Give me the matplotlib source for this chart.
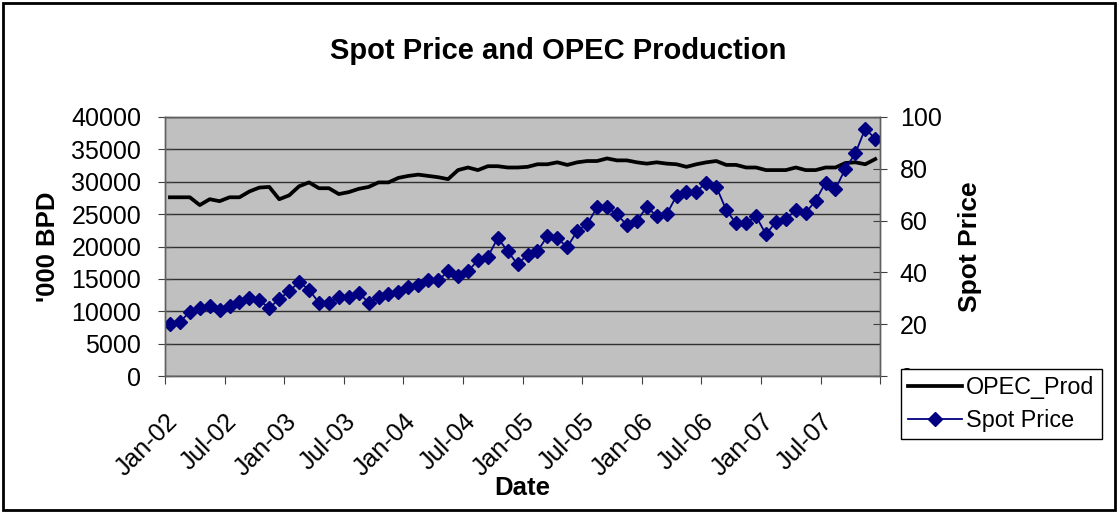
import numpy as np
import matplotlib
matplotlib.use("Agg")
import matplotlib.pyplot as plt
from matplotlib.patches import Rectangle

plt.rcParams["font.family"] = ["Liberation Sans", "DejaVu Sans"]

# monthly data, Jan-02 .. Dec-07
months = [f"{m}-{y:02d}" for y in range(2, 8)
          for m in ["Jan", "Feb", "Mar", "Apr", "May", "Jun",
                    "Jul", "Aug", "Sep", "Oct", "Nov", "Dec"]]

opec_prod = [
    27600, 27600, 27600, 26400, 27300, 27000, 27600, 27600, 28500, 29100, 29200, 27300,
    27900, 29300, 29900, 29000, 29000, 28100, 28400, 28900, 29200, 29900, 29900, 30600,
    30900, 31100, 30900, 30700, 30400, 31800, 32200, 31800, 32400, 32400, 32200, 32200,
    32300, 32700, 32700, 33000, 32600, 33000, 33200, 33200, 33600, 33300, 33300, 33000,
    32800, 33000, 32800, 32700, 32300, 32700, 33000, 33200, 32600, 32600, 32200, 32200,
    31800, 31800, 31800, 32200, 31800, 31800, 32200, 32200, 32900, 33000, 32700, 33500,
]

spot_price = [
    20.2, 20.8, 24.9, 26.4, 27.2, 25.3, 27.2, 28.5, 30.2, 29.2, 26.2, 29.8,
    32.7, 36.3, 33.3, 28.3, 28.3, 30.5, 30.5, 32.2, 28.3, 30.5, 31.5, 32.3,
    34.3, 35.0, 37.2, 36.9, 40.4, 38.5, 40.4, 44.7, 46.0, 53.3, 48.2, 43.1,
    46.9, 48.2, 54.0, 53.1, 49.8, 56.0, 58.6, 65.1, 65.1, 62.4, 58.3, 59.8,
    65.3, 61.7, 62.4, 69.6, 71.2, 71.2, 74.7, 73.1, 64.1, 58.9, 58.9, 61.7,
    54.7, 59.5, 60.5, 64.1, 63.0, 67.7, 74.7, 72.2, 80.1, 86.0, 95.5, 91.6,
]

x = np.arange(len(months))

fig = plt.figure(figsize=(11.17, 5.12), dpi=100)
ax = fig.add_axes([0.1477, 0.2656, 0.6403, 0.5059])
ax2 = ax.twinx()

ax.set_facecolor("#c0c0c0")
ax.grid(axis="y", color="#303030", linewidth=1.0)
ax.set_axisbelow(True)

l1, = ax.plot(x, opec_prod, color="black", linewidth=2.7, label="OPEC_Prod", zorder=3)
l2, = ax2.plot(x, spot_price, color="#000080", linewidth=1.3, marker="D",
               markersize=7.5, label="Spot Price")

ax.set_xlim(-0.5, len(months) - 0.5)
ax.set_ylim(0, 40000)
ax.set_yticks(np.arange(0, 40001, 5000))
ax2.set_ylim(0, 100)
ax2.set_yticks(np.arange(0, 101, 20))

tick_pos = np.arange(-0.5, len(months), 6)
ax.set_xticks(tick_pos)
ax.set_xticklabels([months[int(p + 0.5)] if p + 0.5 < len(months) else "" for p in tick_pos],
                   rotation=45, ha="right", va="top", rotation_mode="anchor")

ax.tick_params(axis="x", direction="out", length=6, labelsize=18, pad=18, color="#404040")
ax.tick_params(axis="y", direction="inout", length=10, labelsize=18, pad=12, color="#404040")
ax2.tick_params(axis="y", direction="inout", length=10, labelsize=18, pad=9, color="#404040")

for a in (ax, ax2):
    for s in a.spines.values():
        s.set_color("#606060")
        s.set_linewidth(1.0)

fig.text(0.5, 1 - 59 / 512, "Spot Price and OPEC Production", fontsize=21,
         fontweight="bold", ha="center", va="baseline")
fig.text(522 / 1117, 1 - 495 / 512, "Date", fontsize=18.5, fontweight="bold",
         ha="center", va="baseline")
ax.set_ylabel("'000 BPD", fontsize=18.5, fontweight="bold", labelpad=8)
ax2.set_ylabel("Spot Price", fontsize=19, fontweight="bold", labelpad=12)

leg = fig.legend(handles=[l1, l2], loc="upper left", bbox_to_anchor=(0.8066, 0.2793),
                 borderaxespad=0, fontsize=16.8, frameon=True, fancybox=False,
                 edgecolor="black", framealpha=1, handlelength=2.3, borderpad=0.3,
                 labelspacing=0.45, handletextpad=0.2)
leg.get_frame().set_linewidth(1.0)

fig.patches.append(Rectangle((0.003, 0.003), 0.995, 0.991, transform=fig.transFigure,
                             fill=False, edgecolor="black", linewidth=2))

fig.savefig("out.png", dpi=100)
